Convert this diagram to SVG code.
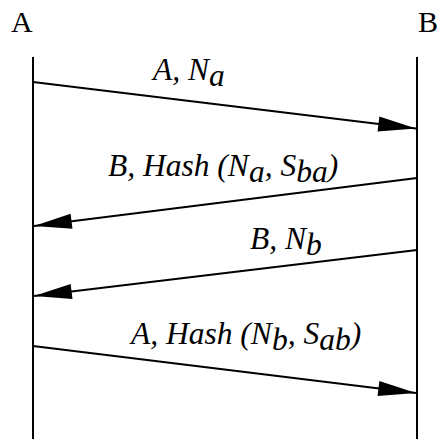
<svg xmlns="http://www.w3.org/2000/svg" width="438" height="439" viewBox="0 0 438 439">
<style>
.life{stroke:#000;stroke-width:2;fill:none}
.msg{stroke:#000;stroke-width:2;fill:none;marker-end:url(#ah)}
.name{font-family:"Liberation Serif","Times New Roman",serif;font-size:30px;fill:#000}
.lbl{font-family:"Liberation Serif","Times New Roman",serif;font-style:italic;font-size:31.5px;fill:#000}
</style>
<defs>
<marker id="ah" markerUnits="userSpaceOnUse" markerWidth="40" markerHeight="20" viewBox="-36 -8 37 16" refX="0" refY="0" orient="auto" overflow="visible">
<path d="M0,0 L-35,-7 L-35,7 Z" fill="#000"/>
</marker>
</defs>
<rect width="438" height="439" fill="#fff"/>
<g id="nodeA">
<text class="name" x="11" y="32">A</text>
<line class="life" x1="33" y1="57" x2="33" y2="439"/>
</g>
<g id="nodeB">
<text class="name" x="418" y="32">B</text>
<line class="life" x1="417" y1="57" x2="417" y2="439"/>
</g>
<g id="connectors">
<line class="msg" x1="33" y1="82" x2="416" y2="128.5"/>
<line class="msg" x1="417" y1="178" x2="34" y2="226"/>
<line class="msg" x1="417" y1="250" x2="34" y2="296"/>
<line class="msg" x1="33" y1="346" x2="416" y2="393"/>
</g>
<g id="labels">
<text class="lbl" x="153" y="80">A, N<tspan dy="6">a</tspan></text>
<text class="lbl" x="108" y="176">B, Hash (N<tspan dy="6">a</tspan><tspan dy="-6">, S</tspan><tspan dy="6">ba</tspan><tspan dy="-6">)</tspan></text>
<text class="lbl" x="250" y="249">B, N<tspan dy="6">b</tspan></text>
<text class="lbl" x="131" y="344">A, Hash (N<tspan dy="6">b</tspan><tspan dy="-6">, S</tspan><tspan dy="6">ab</tspan><tspan dy="-6">)</tspan></text>
</g>
</svg>
